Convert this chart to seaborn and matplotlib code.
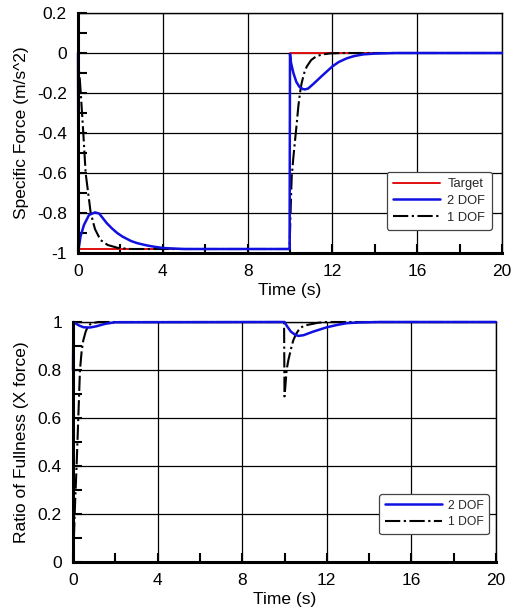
import matplotlib
matplotlib.use("Agg")
import matplotlib.pyplot as plt
import seaborn as sns
from matplotlib.ticker import MultipleLocator

# ---------------- data ----------------
# Top panel: specific force
t_target = [0.0, 0.0, 10.0, 10.0, 20.0]
f_target = [0.0, -0.98, -0.98, 0.0, 0.0]

t_2dof = [0.0, 0.03, 0.12, 0.28, 0.52, 0.8, 1.0, 1.15, 1.35, 1.6, 1.85, 2.1,
          2.5, 2.8, 3.2, 3.5, 4.0, 5.0,
          9.98, 10.0, 10.05, 10.16, 10.3, 10.45, 10.6, 10.7, 10.85, 11.1, 11.5,
          12.0, 12.3, 12.67, 13.0, 13.45, 14.0, 15.0, 20.0]
f_2dof = [0.0, -0.98, -0.917, -0.86, -0.81, -0.797, -0.803, -0.823, -0.85,
          -0.877, -0.9, -0.918, -0.94, -0.951, -0.961, -0.967, -0.975, -0.98,
          -0.98, -0.005, -0.05, -0.1, -0.145, -0.17, -0.18, -0.182, -0.178,
          -0.155, -0.115, -0.067, -0.045, -0.027, -0.016, -0.007, -0.003, 0.0,
          0.0]

t_1dof = [0.0, 0.05, 0.13, 0.25, 0.36, 0.48, 0.6, 0.8, 1.06, 1.4, 1.9, 2.5, 3.5,
          9.98, 10.0, 10.04, 10.08, 10.16, 10.24, 10.32, 10.39, 10.47, 10.55,
          10.67, 10.79, 11.0, 11.26, 11.6, 11.9, 12.5, 20.0]
f_1dof = [0.0, -0.08, -0.2, -0.4, -0.6, -0.7, -0.8, -0.88, -0.935, -0.96, -0.975,
          -0.98, -0.98,
          -0.98, -0.9, -0.75, -0.62, -0.52, -0.435, -0.35, -0.27, -0.2, -0.15,
          -0.1, -0.068, -0.035, -0.015, -0.006, -0.002, 0.0, 0.0]

# Bottom panel: ratio of fullness
t_r2 = [0.0, 0.02, 0.1, 0.3, 0.5, 0.8, 1.1, 1.5, 2.0, 9.98, 10.0, 10.1, 10.3,
        10.5, 10.65, 10.9, 11.36, 12.0, 12.5, 12.94, 13.5, 14.5, 20.0]
r_2dof = [0.8, 1.0, 0.995, 0.985, 0.978, 0.977, 0.982, 0.992, 0.999, 1.0, 1.0,
          0.985, 0.96, 0.947, 0.942, 0.945, 0.96, 0.978, 0.988, 0.995, 0.998,
          1.0, 1.0]

t_r1 = [0.0, 0.05, 0.1, 0.17, 0.25, 0.33, 0.41, 0.49, 0.6, 0.72, 0.9, 1.2, 1.6,
        9.98, 10.0, 10.03, 10.1, 10.18, 10.26, 10.34, 10.42, 10.55, 10.73,
        10.95, 11.2, 11.6, 12.0, 20.0]
r_1dof = [0.0, 0.12, 0.25, 0.4, 0.6, 0.8, 0.88, 0.925, 0.96, 0.985, 0.995, 1.0,
          1.0, 1.0, 0.69, 0.72, 0.8, 0.84, 0.87, 0.9, 0.925, 0.95, 0.975,
          0.985, 0.99, 0.997, 1.0, 1.0]

x_ticks = [0, 4, 8, 12, 16, 20]
top_yticks = [-1, -0.8, -0.6, -0.4, -0.2, 0, 0.2]
top_ytick_labels = ["-1", "-0.8", "-0.6", "-0.4", "-0.2", "0", "0.2"]
bot_yticks = [0, 0.2, 0.4, 0.6, 0.8, 1]
bot_ytick_labels = ["0", "0.2", "0.4", "0.6", "0.8", "1"]

# ---------------- style ----------------
sns.set_theme(style="white")
plt.rcParams["font.family"] = ["Liberation Sans", "DejaVu Sans"]
plt.rcParams["lines.scale_dashes"] = False

DASHDOT = (0, (11, 2.5, 1.6, 2.5))

fig = plt.figure(figsize=(5.15, 6.16), dpi=100)
ax1 = fig.add_axes([78 / 515, 1 - 253 / 616, 424 / 515, 240 / 616])
ax2 = fig.add_axes([73 / 515, 1 - 562 / 616, 423 / 515, 240 / 616])


def style_axes(ax, yticks, ylabels, ylim, ylabel):
    ax.set_xlim(0, 20)
    ax.set_ylim(*ylim)
    ax.set_xticks(x_ticks)
    ax.set_xticklabels([str(v) for v in x_ticks])
    ax.set_yticks(yticks)
    ax.set_yticklabels(ylabels)
    ax.xaxis.set_minor_locator(MultipleLocator(2))
    ax.yaxis.set_minor_locator(MultipleLocator(0.1))
    ax.grid(True, which="major", color="black", linewidth=0.9)
    ax.set_axisbelow(True)
    ax.tick_params(which="both", direction="in", bottom=True, left=True,
                   top=False, right=False, color="black", width=1.5)
    ax.tick_params(which="major", length=6.5, labelsize=12.5, pad=8,
                   labelcolor="black")
    ax.tick_params(which="minor", length=6.5)
    for side in ["left", "bottom"]:
        ax.spines[side].set_linewidth(2.2)
        ax.spines[side].set_color("black")
        ax.spines[side].set_zorder(5)
    for side in ["top", "right"]:
        ax.spines[side].set_linewidth(1.0)
        ax.spines[side].set_color("black")
    ax.set_xlabel("Time (s)", fontsize=12.5, labelpad=3, color="black")
    ax.set_ylabel(ylabel, fontsize=12.5, labelpad=6, color="black")


# Top panel
sns.lineplot(x=t_target, y=f_target, ax=ax1, color="#e01010", linewidth=1.4,
             estimator=None, sort=False, label="Target", zorder=2)
sns.lineplot(x=t_2dof, y=f_2dof, ax=ax1, color="#1010e0", linewidth=1.8,
             estimator=None, sort=False, label="2 DOF", zorder=4)
sns.lineplot(x=t_1dof, y=f_1dof, ax=ax1, color="black", linewidth=1.5,
             estimator=None, sort=False, label="1 DOF", zorder=3)
ax1.lines[-1].set_linestyle(DASHDOT)
style_axes(ax1, top_yticks, top_ytick_labels, (-1, 0.2),
           "Specific Force (m/s^2)")
leg1 = ax1.legend(loc="lower right", bbox_to_anchor=(0.976, 0.096),
                  borderaxespad=0, fontsize=9.3, handlelength=3.6,
                  handletextpad=0.6, labelspacing=0.35, borderpad=0.5,
                  fancybox=True, framealpha=1, edgecolor="#444444")
leg1.get_frame().set_linewidth(0.9)
leg1.set_zorder(10)

# Bottom panel
sns.lineplot(x=t_r2, y=r_2dof, ax=ax2, color="#1010e0", linewidth=1.8,
             estimator=None, sort=False, label="2 DOF", zorder=4)
sns.lineplot(x=t_r1, y=r_1dof, ax=ax2, color="black", linewidth=1.5,
             estimator=None, sort=False, label="1 DOF", zorder=3)
ax2.lines[-1].set_linestyle(DASHDOT)
style_axes(ax2, bot_yticks, bot_ytick_labels, (0, 1),
           "Ratio of Fullness (X force)")
leg2 = ax2.legend(loc="lower right", bbox_to_anchor=(0.983, 0.117),
                  borderaxespad=0, fontsize=8.7, handlelength=4.7,
                  handletextpad=0.5, labelspacing=0.4, borderpad=0.45,
                  fancybox=True, framealpha=1, edgecolor="#444444")
leg2.get_frame().set_linewidth(0.9)
leg2.set_zorder(10)

for line in ax1.lines + ax2.lines:
    line.set_clip_on(False)

fig.savefig("out.png", dpi=100)
